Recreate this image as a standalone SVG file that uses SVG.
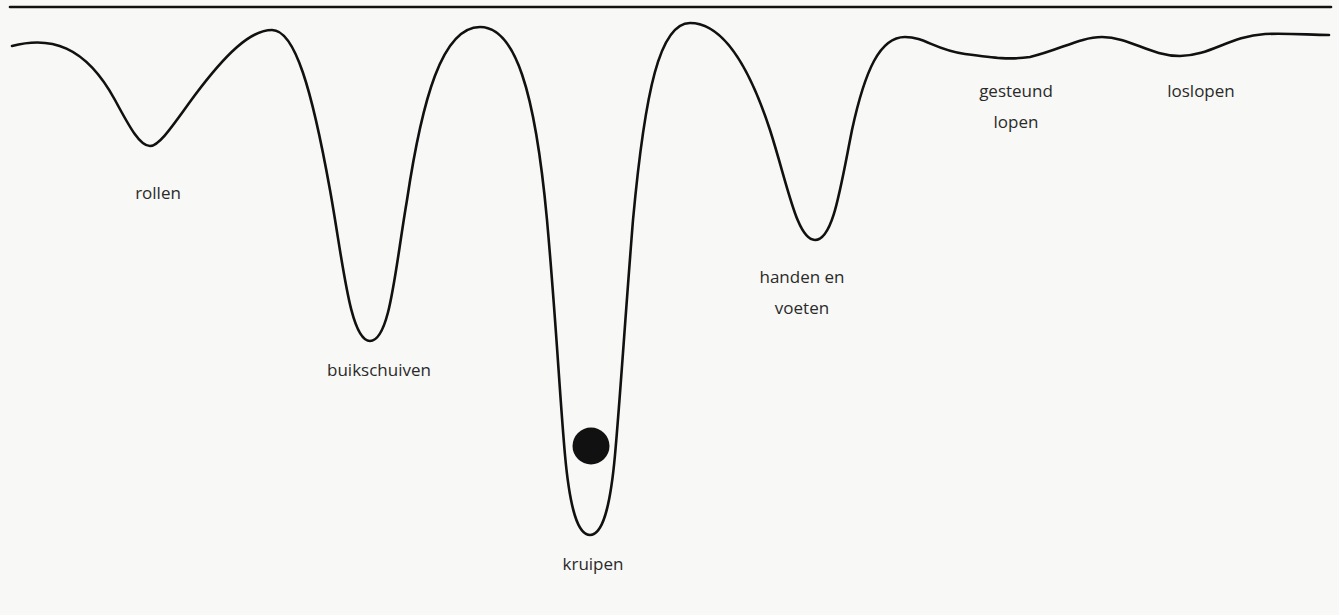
<svg xmlns="http://www.w3.org/2000/svg" width="1339" height="615" viewBox="0 0 1339 615">
<style>
.line{fill:none;stroke:#111;stroke-width:2.6;stroke-linecap:round;stroke-linejoin:round}
.lbl{font-family:"Open Sans","Liberation Sans",sans-serif;font-size:17px;fill:#2a2a2a;text-anchor:middle}
</style>
<rect x="0" y="0" width="1339" height="615" fill="#f8f8f6"/>
<line class="line" x1="10" y1="7" x2="1331" y2="7"/>
<path class="line" d="M12,46 C50,36 85,45 115,100 C130,128 140,146 150,146 C160,146 175,122 195,95 C225,55 250,30 272,30 C295,30 312,90 330,190 C343,262 350,341 370,341 C390,341 395,270 407,200 C422,100 442,27 480,27 C515,27 535,90 547,220 C556,320 560,400 565,455 C570,510 578,535 590,535 C602,535 610,510 615,455 C620,400 625,320 633,220 C645,90 660,23 690,23 C720,23 747,60 770,130 C788,186 797,240 815,240 C833,240 840,190 852,130 C865,70 880,37 905,37 C925,37 935,50 965,54 C995,58 1010,60 1030,57 C1060,50 1080,37 1102,37 C1130,37 1150,56 1180,56 C1210,56 1230,36 1265,34 C1290,33 1310,35 1329,35"/>
<circle cx="591" cy="446" r="18.5" fill="#111"/>
<g id="rollen"><text class="lbl" x="158" y="199">rollen</text></g>
<g id="buikschuiven"><text class="lbl" x="379" y="376">buikschuiven</text></g>
<g id="kruipen"><text class="lbl" x="593" y="570">kruipen</text></g>
<g id="handen"><text class="lbl" x="802" y="283">handen en</text><text class="lbl" x="802" y="314">voeten</text></g>
<g id="gesteund"><text class="lbl" x="1016" y="97">gesteund</text><text class="lbl" x="1016" y="128">lopen</text></g>
<g id="loslopen"><text class="lbl" x="1201" y="97">loslopen</text></g>
</svg>
